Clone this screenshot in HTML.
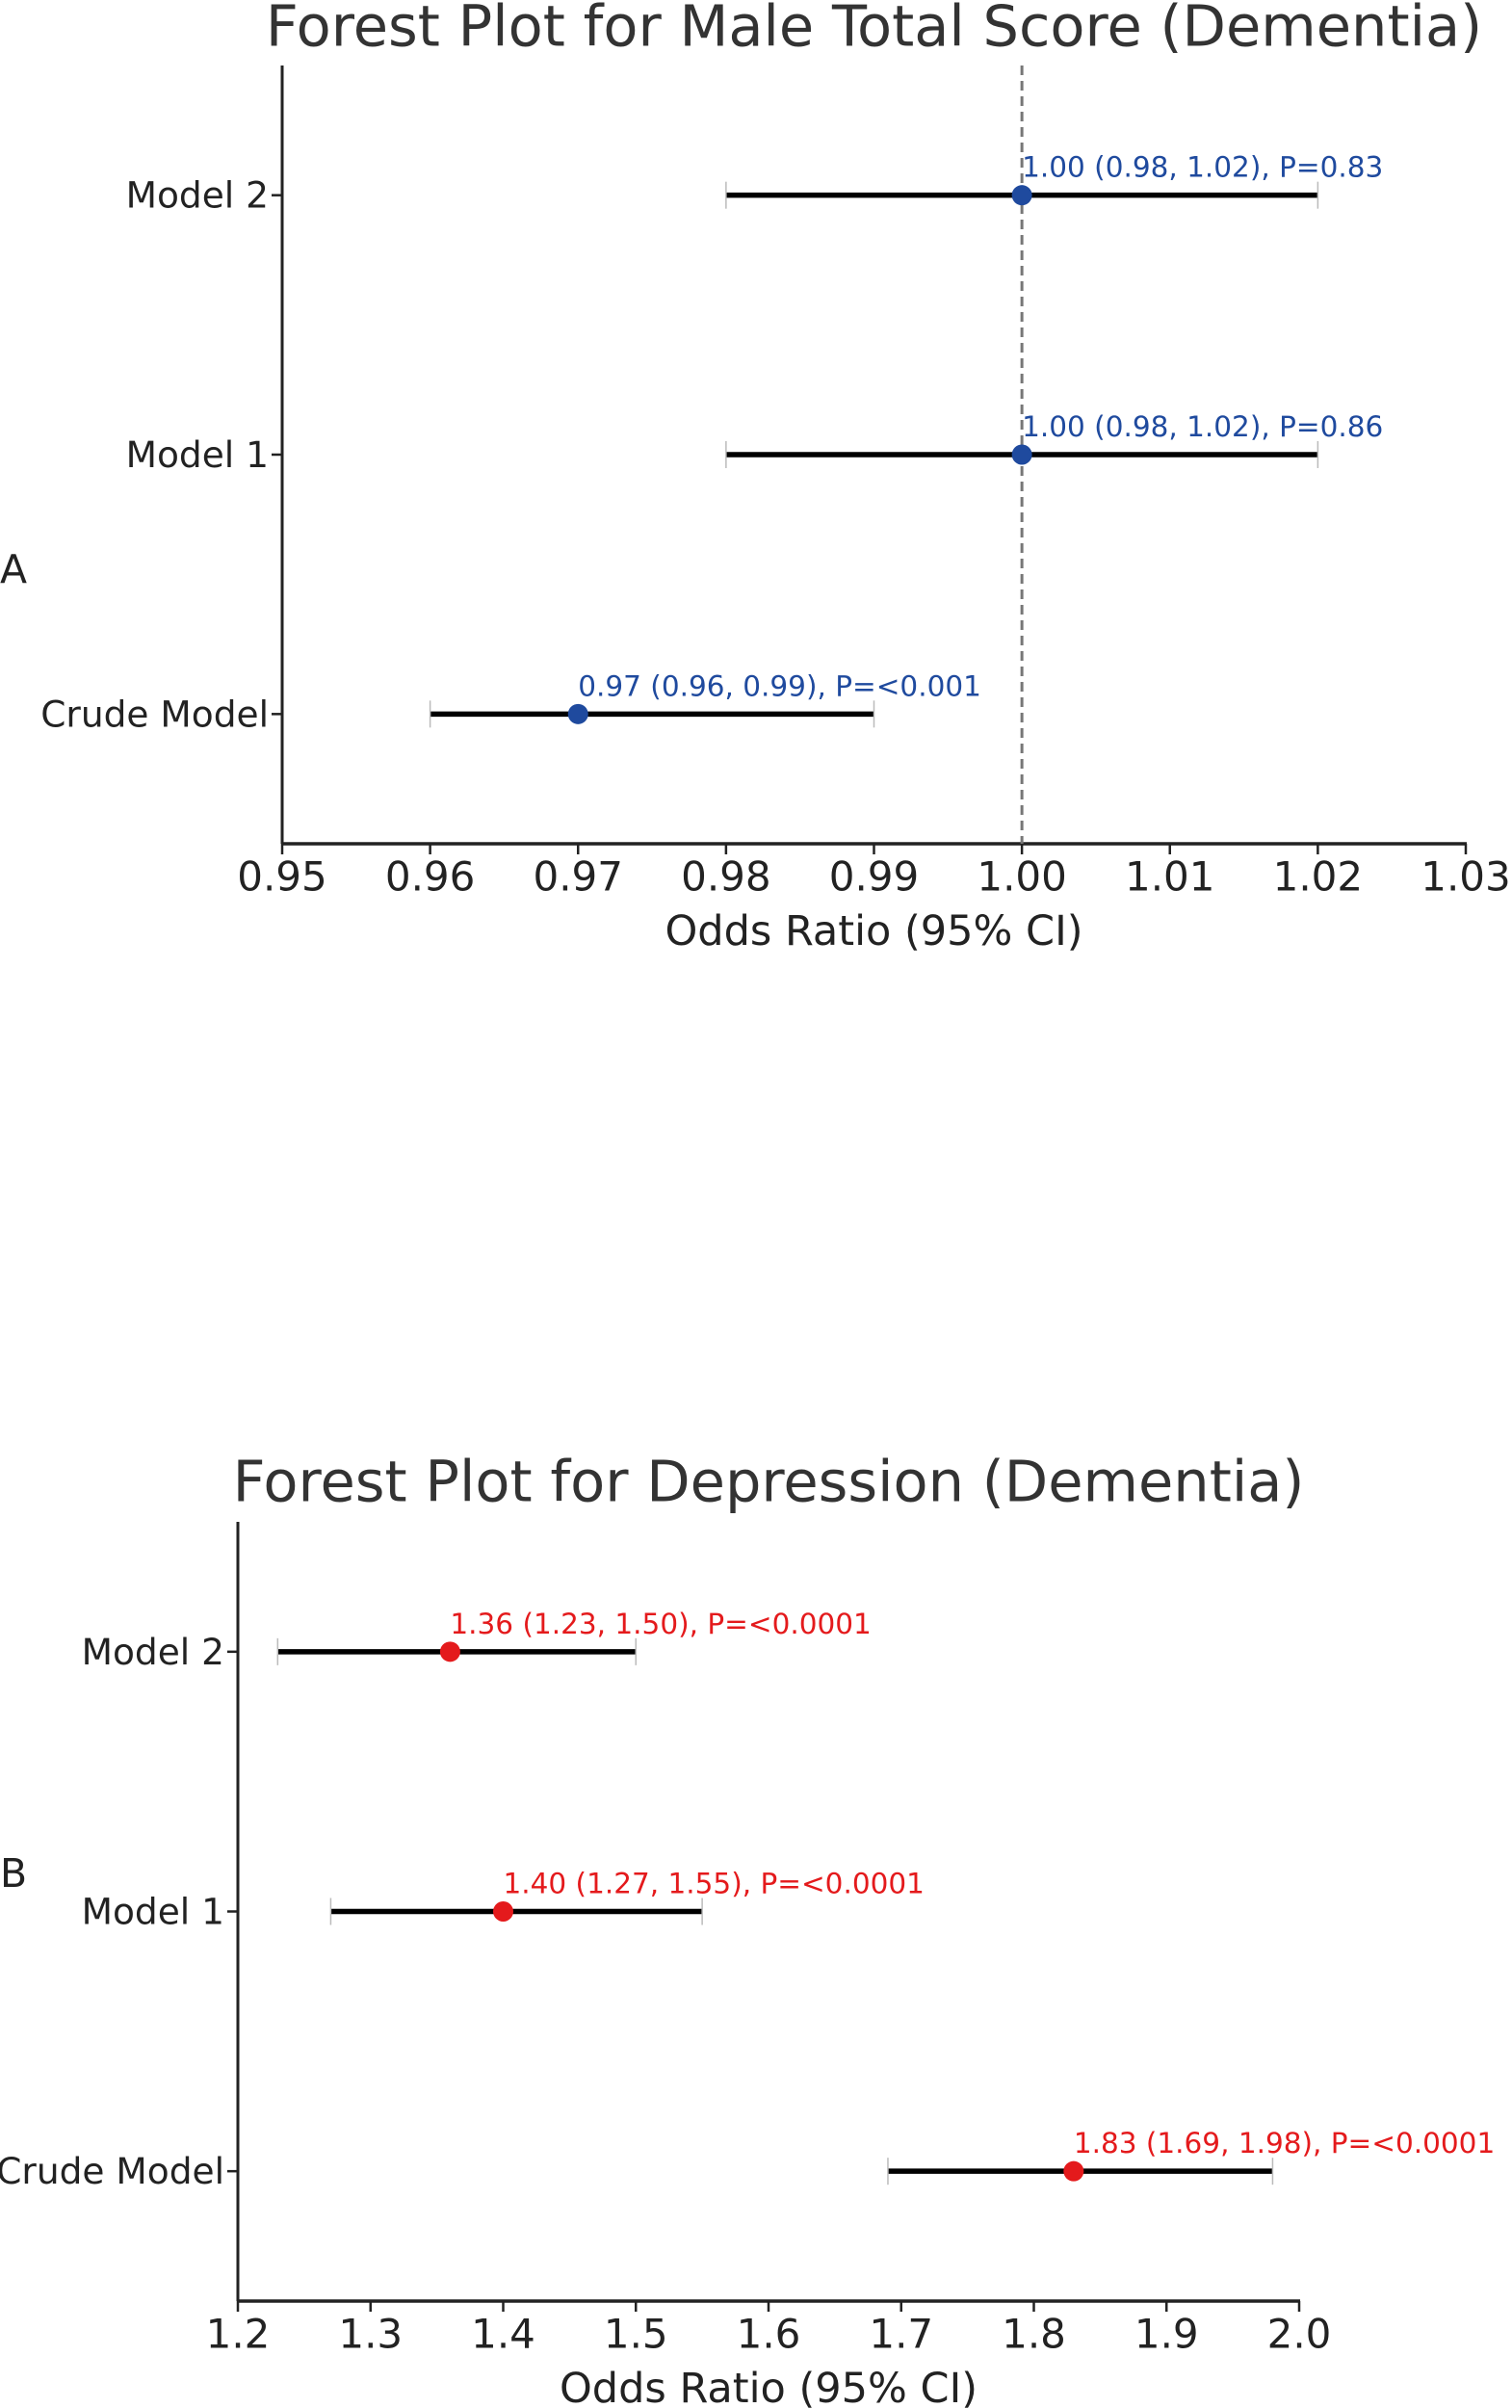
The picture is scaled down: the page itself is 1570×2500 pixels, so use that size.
<!DOCTYPE html>
<html><head><meta charset="utf-8"><style>
html,body{margin:0;padding:0;background:#fff;}
svg{display:block;font-family:"DejaVu Sans","Liberation Sans",sans-serif;}
</style></head><body>
<svg id="chart" width="1570" height="2500" viewBox="0 0 1570 2500" xmlns="http://www.w3.org/2000/svg"></svg>
<script>
// Panel A data
const aCategories = ["Crude Model", "Model 1", "Model 2"];
const aOR = [0.97, 1.00, 1.00];
const aLow = [0.96, 0.98, 0.98];
const aHigh = [0.99, 1.02, 1.02];
const aLabels = ["0.97 (0.96, 0.99), P=<0.001", "1.00 (0.98, 1.02), P=0.86", "1.00 (0.98, 1.02), P=0.83"];
const aTicks = [0.95, 0.96, 0.97, 0.98, 0.99, 1.00, 1.01, 1.02, 1.03];
const aTickLabels = ["0.95","0.96","0.97","0.98","0.99","1.00","1.01","1.02","1.03"];
// Panel B data
const bCategories = ["Crude Model", "Model 1", "Model 2"];
const bOR = [1.83, 1.40, 1.36];
const bLow = [1.69, 1.27, 1.23];
const bHigh = [1.98, 1.55, 1.50];
const bLabels = ["1.83 (1.69, 1.98), P=<0.0001", "1.40 (1.27, 1.55), P=<0.0001", "1.36 (1.23, 1.50), P=<0.0001"];
const bTicks = [1.2, 1.3, 1.4, 1.5, 1.6, 1.7, 1.8, 1.9, 2.0];
const bTickLabels = ["1.2","1.3","1.4","1.5","1.6","1.7","1.8","1.9","2.0"];

const svg = document.getElementById('chart');
const NS = "http://www.w3.org/2000/svg";
function mk(tag, attrs, text){
  const e = document.createElementNS(NS, tag);
  for (const k in attrs) e.setAttribute(k, attrs[k]);
  if (text !== undefined) e.textContent = text;
  svg.appendChild(e);
  return e;
}

function panel(cfg){
  const xs = v => cfg.x0 + (v - cfg.xmin) / (cfg.xmax - cfg.xmin) * (cfg.x1 - cfg.x0);
  const ys = i => cfg.yb + (i + 0.5) / 3 * (cfg.yt - cfg.yb);
  let e;
  e = mk('text', {x:(cfg.x0+cfg.x1)/2, y:cfg.titleY, 'font-size':59, fill:'#333', 'text-anchor':'middle', 'dominant-baseline':'central'}, cfg.title);
  
  
  e = mk('text', {x:0, y:cfg.letterY, 'font-size':41, fill:'#222', 'dominant-baseline':'central'}, cfg.letter);
  
  
  e = mk('line', {x1:cfg.x0, y1:cfg.yt, x2:cfg.x0, y2:cfg.yb, stroke:'#222', 'stroke-width':3});
  
  
  e = mk('line', {x1:cfg.x0-1, y1:cfg.yb, x2:cfg.x1+1, y2:cfg.yb, stroke:'#222', 'stroke-width':3.5});
  
  
  cfg.ticks.forEach((t, i) => {
    const x = xs(t);
    e = mk('line', {x1:x, y1:cfg.yb, x2:x, y2:cfg.yb+11, stroke:'#222', 'stroke-width':2.5});
    
    
    e = mk('text', {x:x, y:cfg.yb+34, 'font-size':42, fill:'#222', 'text-anchor':'middle', 'dominant-baseline':'central'}, cfg.tickLabels[i]);
    
    
  });
  e = mk('text', {x:(cfg.x0+cfg.x1)/2, y:cfg.yb+91, 'font-size':43, fill:'#222', 'text-anchor':'middle', 'dominant-baseline':'central'}, 'Odds Ratio (95% CI)');
  
  
  if (cfg.refLine !== null){
    e = mk('line', {x1:xs(cfg.refLine), y1:cfg.yt, x2:xs(cfg.refLine), y2:cfg.yb, stroke:'#777', 'stroke-width':3, 'stroke-dasharray':'10,6'});
    
    
  }
  cfg.cats.forEach((c, i) => {
    const y = ys(i);
    e = mk('line', {x1:cfg.x0-11, y1:y, x2:cfg.x0, y2:y, stroke:'#222', 'stroke-width':2.5});
    
    
    e = mk('text', {x:cfg.x0-14, y:y, 'font-size':37.5, fill:'#222', 'text-anchor':'end', 'dominant-baseline':'central'}, c);
    
    
    const xl = xs(cfg.low[i]), xh = xs(cfg.high[i]);
    e = mk('line', {x1:xl, y1:y, x2:xh, y2:y, stroke:'#000', 'stroke-width':5.5});
    
    
    [xl, xh].forEach(xc => {
      e = mk('line', {x1:xc, y1:y-14, x2:xc, y2:y+14, stroke:'#bbb', 'stroke-width':1.5});
      
      
    });
    e = mk('circle', {cx:xs(cfg.or[i]), cy:y, r:10.5, fill:cfg.color});
    
    
    e = mk('text', {x:xs(cfg.or[i]), y:y-29, 'font-size':29.5, fill:cfg.color, 'dominant-baseline':'central'}, cfg.labels[i]);
    
    
  });
}

panel({title:'Forest Plot for Male Total Score (Dementia)', letter:'A', letterY:591, titleY:27,
  x0:293, x1:1522, xmin:0.95, xmax:1.03, yt:68, yb:876,
  cats:aCategories, or:aOR, low:aLow, high:aHigh, labels:aLabels,
  ticks:aTicks, tickLabels:aTickLabels, refLine:1.0, color:'#1f4a9e'});
panel({title:'Forest Plot for Depression (Dementia)', letter:'B', letterY:1945, titleY:1538,
  x0:247, x1:1349, xmin:1.2, xmax:2.0, yt:1580, yb:2389,
  cats:bCategories, or:bOR, low:bLow, high:bHigh, labels:bLabels,
  ticks:bTicks, tickLabels:bTickLabels, refLine:null, color:'#e41a1c'});
</script>
</body></html>
